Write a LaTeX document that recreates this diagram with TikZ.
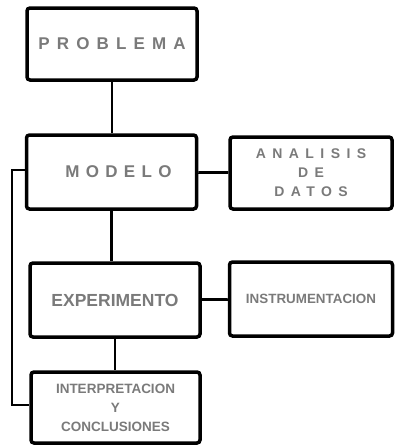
\documentclass[tikz,border=0pt]{standalone}
\usepackage{fontspec}
\setmainfont{Liberation Sans}
\usetikzlibrary{positioning}
\newcommand{\spaced}[2][50]{{\addfontfeature{LetterSpace=#1}#2}}

\begin{document}
\begin{tikzpicture}[x=1pt,y=-1pt,
    caja/.style={draw,line width=3.5pt,rounded corners=3pt,minimum width=170pt,minimum height=72pt,
      text=black!52,align=center,inner sep=0pt},
    letra/.style={font=\bfseries\fontsize{#1}{19}\selectfont},
    enlace/.style={line width=2.8pt}]
    \useasboundingbox (0,0) rectangle (394,447);
    \node[caja,letra=17] (prob) at (112,44){\spaced[42]{PROBLEMA}};
    \node[caja,letra=17,minimum height=74pt] (modelo) at (111.5,172){\hspace*{14pt}\spaced[37]{MODELO}};
    \node[caja,letra=14,minimum width=162pt] (datos) at (311,173){\spaced[46]{ANALISIS}\\\spaced[46]{DE}\\\spaced[46]{DATOS}};
    \node[caja,letra=17.5,minimum height=74pt] (exper) at (115,300){EXPERIMENTO};
    \node[caja,letra=13.4,minimum width=163pt,minimum height=74pt] (instr) at (311,299){INSTRUMENTACION};
    \node[caja,letra=13.5,minimum width=169pt,minimum height=71pt] (interp) at (115.5,407.5){INTERPRETACION\\Y\\CONCLUSIONES};
    \coordinate (vuelta) at (12,290);
    \draw[enlace] (prob.south) -- (prob.south |- modelo.north);
    \draw[enlace] (modelo.south) -- (modelo.south |- exper.north);
    \draw[enlace] (exper.south) -- (exper.south |- interp.north);
    \draw[enlace] (modelo) -- (datos);
    \draw[enlace] (exper) -- (instr);
    \draw[enlace] ([yshift=2pt]modelo.west) -| (vuelta) |- ([yshift=2.5pt]interp.west);
\end{tikzpicture}
\end{document}
